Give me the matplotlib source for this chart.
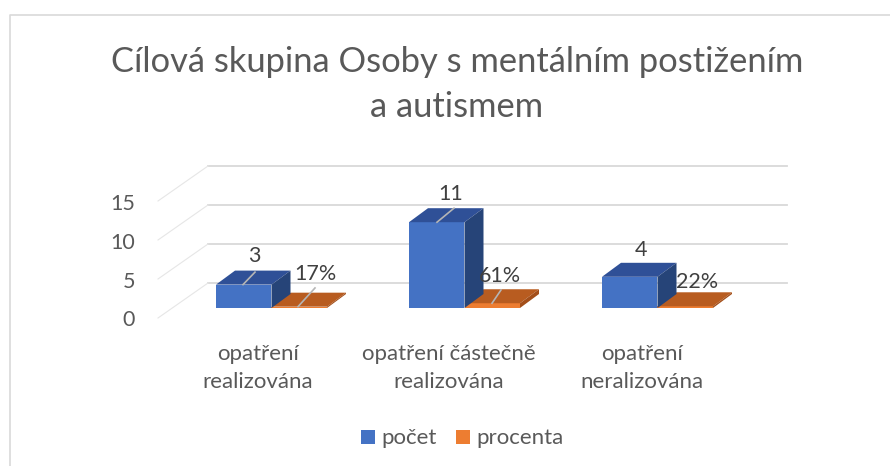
import matplotlib
matplotlib.use("Agg")
import matplotlib.pyplot as plt
from matplotlib.patches import Polygon, Rectangle

categories = ["opatření\nrealizována", "opatření částečně\nrealizována", "opatření\nneralizována"]
pocet = [3, 11, 4]
procenta = [0.17, 0.61, 0.22]
procenta_labels = ["17%", "61%", "22%"]
yticks = [0, 5, 10, 15]

W, H = 890, 466
BLUE = ("#4472c4", "#2f5097", "#264478")
ORANGE = ("#ed7d31", "#b85c20", "#a34f1a")
GRID = "#d9d9d9"
TXT = "#404040"
TXT2 = "#595959"

plt.rcParams["font.family"] = ["Lato", "DejaVu Sans"]

fig = plt.figure(figsize=(W / 100, H / 100), dpi=100)
ax = fig.add_axes([0, 0, 1, 1])
# one category = 193 px, one unit on y = 7.8 px, category 0 bar starts at x=0
ax.set_xlim(-216 / 193, (W - 216) / 193)
ax.set_ylim(-(H - 308) / 7.8, 308 / 7.8)
ax.axis("off")

bar_w = 55.5 / 193
dep_x = 19 / 193
dep_y = 14 / 7.8


def px(x, y):
    return (x - 216) / 193, (308 - y) / 7.8


def box(x, h, cols, z):
    front, top, side = cols
    ax.add_patch(Rectangle((x, 0), bar_w, h, fc=front, ec="none", zorder=z))
    ax.add_patch(Polygon([(x, h), (x + bar_w, h), (x + bar_w + dep_x, h + dep_y), (x + dep_x, h + dep_y)],
                         fc=top, ec="none", zorder=z))
    ax.add_patch(Polygon([(x + bar_w, 0), (x + bar_w + dep_x, dep_y), (x + bar_w + dep_x, h + dep_y), (x + bar_w, h)],
                         fc=side, ec="none", zorder=z))


def label(x, y, s, size=15.5, color=TXT, **kw):
    # lato sits a bit high with va=center
    x, y = px(x, y + 2.5)
    ax.text(x, y, s, ha=kw.pop("ha", "center"), va="center", fontsize=size, color=color, zorder=5, **kw)


# chart frame
ax.plot(*zip(px(9.5, 466), px(9.5, 15), px(W, 15)), color=GRID, lw=1.2, zorder=1)

# gridlines on the back wall and the side wall
for t in yticks:
    ax.plot([-8 / 193, 571 / 193], [t + 25 / 7.8, t + 25 / 7.8], color=GRID, lw=1.3, zorder=1)
    ax.plot([-8 / 193, -58 / 193], [t + 25 / 7.8, t - 10 / 7.8], color="#e6e6e6", lw=0.8, zorder=1)
    label(135, 318 - t * 7.8, str(t), color=TXT2, ha="right")

for i, cat in enumerate(categories):
    box(i, pocet[i], BLUE, 3)
    box(i + bar_w, procenta[i], ORANGE, 2)

# leader lines of the labels
for i, x0, x1, dy in [(0, 27, 39, 1.6), (1, 28, 45, 1.8)]:
    ax.plot([i + x0 / 193, i + x1 / 193], [pocet[i], pocet[i] + dy], color="#b5b5b5", lw=1.2, zorder=4)
for i, x0, x1, dy in [(0, 82, 99, 2.4), (1, 83, 92, 1.7)]:
    ax.plot([i + x0 / 193, i + x1 / 193], [procenta[i], procenta[i] + dy], color="#b5b5b5", lw=1.2, zorder=4)

pocet_pos = [(254, 254), (451, 191), (641, 247)]
for (x, y), v in zip(pocet_pos, pocet):
    label(x, y, str(v))
proc_pos = [(315, 271), (500, 273), (697, 279)]
for (x, y), s in zip(proc_pos, procenta_labels):
    label(x, y, s)

# category labels
cat_pos = [(258, 365), (449, 365), (642, 365)]
for (x, y), c in zip(cat_pos, categories):
    label(x, y, c, size=16, color=TXT2, linespacing=1.5)

# title
label(457, 82, "Cílová skupina Osoby s mentálním postižením\na autismem", size=24.8, color=TXT2, linespacing=1.5)

# legend
for lx, col, name in [(361, BLUE[0], "počet"), (456, ORANGE[0], "procenta")]:
    x0, y0 = px(lx, 444)
    ax.add_patch(Rectangle((x0, y0), 14 / 193, 14 / 7.8, fc=col, ec="none"))
    label(lx + 20, 436, name, size=16, color=TXT2, ha="left")

fig.savefig("out.png", dpi=100)
